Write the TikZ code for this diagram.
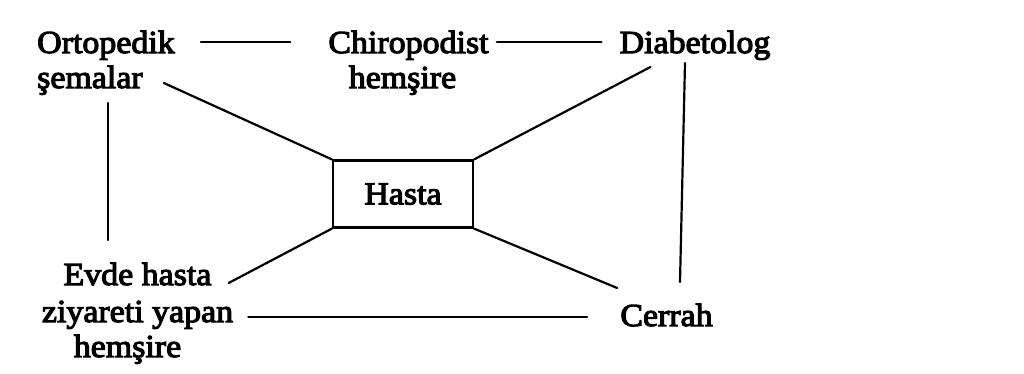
\documentclass[tikz,border=0pt]{standalone}
\usepackage{fontspec}
\setmainfont{Liberation Serif}[FakeStretch=1.06,FakeBold=3.5]
\usetikzlibrary{calc}
\begin{document}
\begin{tikzpicture}[x=1pt,y=-1pt,
  lbl/.style={inner sep=0pt,font=\fontsize{32}{36}\selectfont},
  conn/.style={line width=2.2pt,line cap=round},
  box/.style={draw,line width=2.2pt,minimum width=140pt,minimum height=67pt,inner sep=0pt,font=\fontsize{32}{36}\selectfont}]
\useasboundingbox (0,0) rectangle (1024,373);
% nodes
\node[lbl,anchor=base west] (orto1) at (37,53) {Ortopedik};
\node[lbl,anchor=base west] (orto2) at (37,88) {şemalar};
\node[lbl,anchor=base] (chiro1) at (408.5,53) {Chiropodist};
\node[lbl,anchor=base] (chiro2) at (402.5,88) {hemşire};
\node[lbl,anchor=base] (diab) at (695,53) {Diabetolog};
\node[box] (hasta) at (403,194) {Hasta};
\node[lbl,anchor=base] (evde1) at (137.5,285) {Evde hasta};
\node[lbl,anchor=base] (evde2) at (137.5,322) {ziyareti yapan};
\node[lbl,anchor=base] (evde3) at (127.5,357) {hemşire};
\node[lbl,anchor=base] (cerrah) at (666.5,326) {Cerrah};
% connectors
\draw[conn] ($(orto1.base east)+(26,-11)$) -- ($(chiro1.base west)+(-38,-11)$);
\draw[conn] ($(chiro1.base east)+(8,-11)$) -- ($(diab.base west)+(-18,-11)$);
\draw[conn] ($(orto2.base east)+(21,-5)$) -- (hasta.north west);
\draw[conn] ($(diab.base west)+(31,14)$) -- (hasta.north east);
\draw[conn] ($(orto2.base west)+(71,15)$) -- ($(evde1.base)+(-29.5,-45)$);
\draw[conn] ($(diab.base)+(-10,10)$) -- ($(cerrah.base)+(13.5,-44)$);
\draw[conn] (hasta.south west) -- ($(evde1.base east)+(17,-2)$);
\draw[conn] (hasta.south east) -- ($(cerrah.base west)+(-3,-38)$);
\draw[conn] ($(evde2.base east)+(15,-5)$) -- ($(cerrah.base west)+(-33,-9)$);
\end{tikzpicture}
\end{document}
